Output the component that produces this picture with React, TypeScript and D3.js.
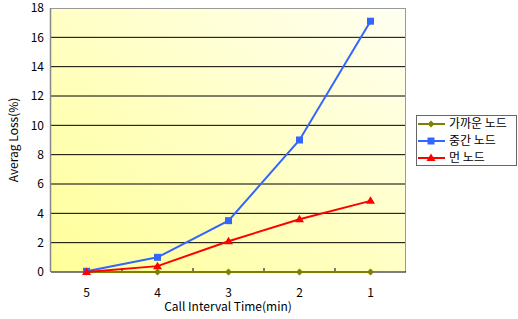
import React from "react";
import * as d3 from "d3";

const categories = ["5", "4", "3", "2", "1"];
const nearValues = [0, 0, 0, 0, 0];
const midValues = [0.05, 1, 3.5, 9, 17.1];
const farValues = [0, 0.4, 2.1, 3.6, 4.85];
const yTicks = [0, 2, 4, 6, 8, 10, 12, 14, 16, 18];
const seriesNames = ["가까운 노드", "중간 노드", "먼 노드"];

const W = 518, H = 319;
const L = 51, R = 406, T = 8, B = 272;
const FONT = "'Noto Sans CJK KR', 'DejaVu Sans', sans-serif";

export default function App() {
  const x = d3.scaleBand<string>().domain(categories).range([L, R]);
  const y = d3.scaleLinear().domain([0, 18]).range([B, T]);
  const cx = (c: string) => (x(c) as number) + x.bandwidth() / 2;
  const line = d3.line<[number, number]>().x(d => d[0]).y(d => d[1]);

  const series = [
    { name: seriesNames[0], values: nearValues, color: "#808000", marker: "diamond" },
    { name: seriesNames[1], values: midValues, color: "#3366FF", marker: "square" },
    { name: seriesNames[2], values: farValues, color: "#FF0000", marker: "triangle" },
  ];

  const marker = (m: string, px: number, py: number, color: string, key: string) => {
    if (m === "square") return <rect key={key} x={px - 3.5} y={py - 3.5} width={7} height={7} fill={color} />;
    if (m === "diamond") return <path key={key} d={`M${px},${py - 3.5}L${px + 3.5},${py}L${px},${py + 3.5}L${px - 3.5},${py}Z`} fill={color} />;
    return <path key={key} d={`M${px},${py - 4.5}L${px + 4.5},${py + 3}L${px - 4.5},${py + 3}Z`} fill={color} />;
  };

  return (
    <svg width={W} height={H} style={{ position: "absolute", left: 0, top: 0, fontFamily: FONT }}>
      <defs>
        <linearGradient id="bg" x1="0" y1="1" x2="1" y2="0">
          <stop offset="0%" stopColor="#FFFF99" />
          <stop offset="100%" stopColor="#FFFFF2" />
        </linearGradient>
      </defs>
      <rect x={0} y={0} width={W} height={H} fill="#fff" />
      <rect x={L} y={T} width={R - L} height={B - T} fill="url(#bg)" />
      {yTicks.filter(t => t > 0 && t < 18).map(t => (
        <line key={t} x1={L} x2={R} y1={y(t)} y2={y(t)} stroke="#000" strokeWidth={1} />
      ))}
      <line x1={L} x2={R} y1={T + 0.5} y2={T + 0.5} stroke="#999" />
      <line x1={R - 0.5} x2={R - 0.5} y1={T} y2={B} stroke="#999" />
      <line x1={L - 0.5} x2={L - 0.5} y1={T} y2={B} stroke="#888" strokeWidth={1.5} />
      <line x1={L} x2={R} y1={B} y2={B} stroke="#000" strokeWidth={1} />
      {categories.slice(1).map(c => (
        <line key={c} x1={x(c) as number} x2={x(c) as number} y1={B} y2={B - 4} stroke="#000" />
      ))}
      {yTicks.map(t => (
        <text key={t} x={44} y={y(t)} dy="0.35em" textAnchor="end" fontSize={12} fill="#000">{t}</text>
      ))}
      {categories.map(c => (
        <text key={c} x={cx(c)} y={293} dy="0.35em" textAnchor="middle" fontSize={12} fill="#000">{c}</text>
      ))}
      <text x={228} y={307} dy="0.35em" textAnchor="middle" fontSize={12} fill="#000">Call Interval Time(min)</text>
      <text transform={`translate(14,140) rotate(-90)`} textAnchor="middle" dy="0.35em" fontSize={12} fill="#000">Averag Loss(%)</text>
      {series.map((s, si) => (
        <g key={si}>
          <path d={line(categories.map((c, i) => [cx(c), y(s.values[i])]))!} fill="none" stroke={s.color} strokeWidth={2} />
          {categories.map((c, i) => marker(s.marker, cx(c), y(s.values[i]), s.color, `${si}-${i}`))}
        </g>
      ))}
      <rect x={416.5} y={115.5} width={100} height={50} fill="#fff" stroke="#666" />
      {series.map((s, i) => {
        const ly = 124 + i * 17;
        return (
          <g key={i}>
            <line x1={418} x2={445} y1={ly} y2={ly} stroke={s.color} strokeWidth={2} />
            {marker(s.marker, 431, ly, s.color, `l${i}`)}
            <text x={449} y={ly} dy="0.35em" fontSize={12} fill="#000">{s.name}</text>
          </g>
        );
      })}
    </svg>
  );
}
